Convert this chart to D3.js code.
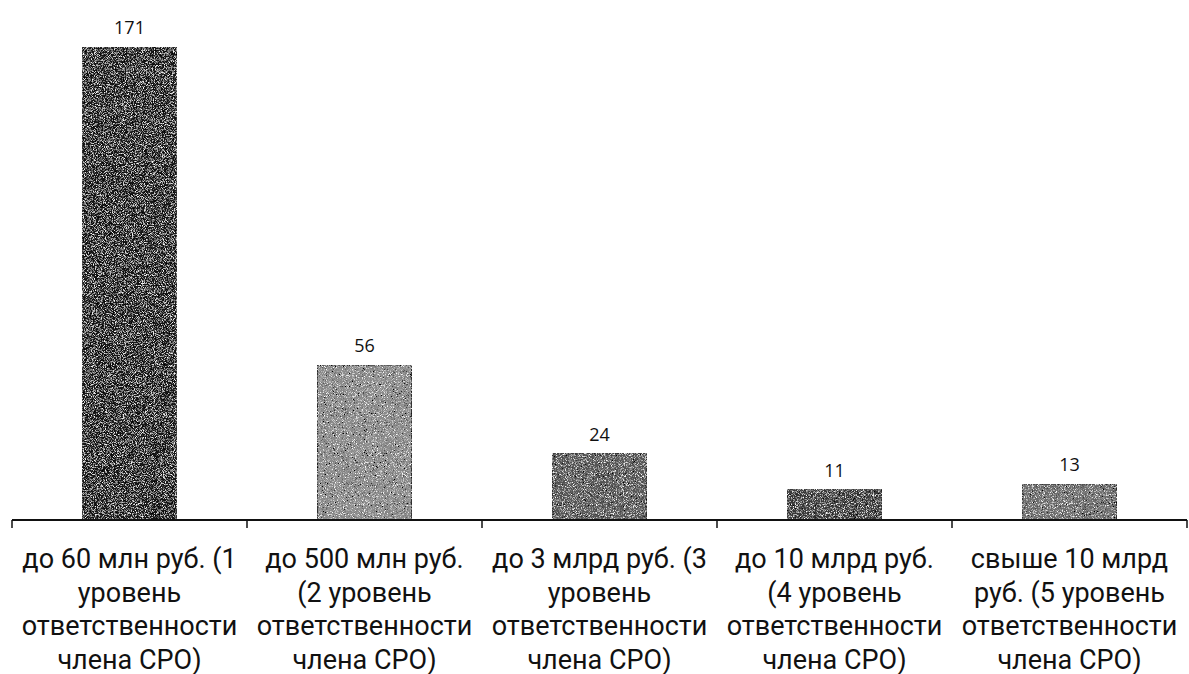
<!DOCTYPE html>
<html>
<head>
<meta charset="utf-8">
<script src="https://cdn.jsdelivr.net/npm/d3@7"></script>
<style>
  body { margin: 0; background: #fff; }
  svg { display: block; }
</style>
</head>
<body>
<div id="chart"></div>
<script>
// categories (label lines as wrapped in the source)
const categories = ["lvl1", "lvl2", "lvl3", "lvl4", "lvl5"];
const labelLines = [
  ["до 60 млн руб. (1", "уровень", "ответственности", "члена СРО)"],
  ["до 500 млн руб.", "(2 уровень", "ответственности", "члена СРО)"],
  ["до 3 млрд руб. (3", "уровень", "ответственности", "члена СРО)"],
  ["до 10 млрд руб.", "(4 уровень", "ответственности", "члена СРО)"],
  ["свыше 10 млрд", "руб. (5 уровень", "ответственности", "члена СРО)"]
];
const values = [171, 56, 24, 11, 13];
const barColors = ["#141414", "#8a8a8a", "#555555", "#383838", "#6c6c6c"];

const width = 1189, height = 674;
const margin = { top: 47, right: 2, bottom: 154, left: 12 };

const svg = d3.select("#chart").append("svg")
  .attr("width", width)
  .attr("height", height);

// sparse grain to mimic the scanned print
const defs = svg.append("defs");
const f = defs.append("filter").attr("id", "grain")
  .attr("x", 0).attr("y", 0).attr("width", 1).attr("height", 1);
f.append("feTurbulence").attr("type", "fractalNoise")
  .attr("baseFrequency", 1.1).attr("numOctaves", 2).attr("seed", 5).attr("result", "noise");
f.append("feColorMatrix").attr("in", "noise").attr("type", "matrix")
  .attr("values", "3 0 0 0 -1  3 0 0 0 -1  3 0 0 0 -1  0 0 0 -4 2.2")
  .attr("result", "speck");
f.append("feComposite").attr("in", "speck").attr("in2", "SourceGraphic").attr("operator", "atop");

const x = d3.scaleBand()
  .domain(categories)
  .range([margin.left, width - margin.right])
  .paddingInner(0.6)
  .paddingOuter(0.3);

const y = d3.scaleLinear()
  .domain([0, 171])
  .range([height - margin.bottom, margin.top]);

const baseY = y(0);

// bars
svg.selectAll("rect.bar")
  .data(values)
  .join("rect")
  .attr("class", "bar")
  .attr("x", (d, i) => x(categories[i]))
  .attr("y", d => y(d))
  .attr("width", x.bandwidth())
  .attr("height", d => baseY - y(d))
  .attr("fill", (d, i) => barColors[i])
  .attr("stroke", "#333")
  .attr("stroke-width", 1)
  .attr("filter", "url(#grain)");

// value labels
svg.selectAll("text.val")
  .data(values)
  .join("text")
  .attr("class", "val")
  .attr("x", (d, i) => x(categories[i]) + x.bandwidth() / 2)
  .attr("y", d => y(d) - 13)
  .attr("text-anchor", "middle")
  .attr("font-family", "'Open Sans', sans-serif")
  .attr("font-size", 18)
  .attr("fill", "#111")
  .text(d => d);

// x axis line and ticks at band boundaries
const step = x.step();
const axisG = svg.append("g").attr("class", "x-axis");
axisG.append("line")
  .attr("x1", margin.left).attr("x2", width - margin.right)
  .attr("y1", baseY).attr("y2", baseY)
  .attr("stroke", "#111").attr("stroke-width", 2);
axisG.selectAll("line.tick")
  .data(d3.range(categories.length + 1))
  .join("line")
  .attr("class", "tick")
  .attr("x1", i => margin.left + i * step)
  .attr("x2", i => margin.left + i * step)
  .attr("y1", baseY).attr("y2", baseY + 8)
  .attr("stroke", "#111").attr("stroke-width", 1.5);

// category labels
const lab = svg.selectAll("text.cat")
  .data(labelLines)
  .join("text")
  .attr("class", "cat")
  .attr("text-anchor", "middle")
  .attr("font-family", "Roboto, sans-serif")
  .attr("font-size", 27)
  .attr("fill", "#111");

lab.selectAll("tspan")
  .data((d, i) => d.map(t => ({ t, i })))
  .join("tspan")
  .attr("x", d => x(categories[d.i]) + x.bandwidth() / 2)
  .attr("y", (d, j) => baseY + 48 + j * 33.5)
  .text(d => d.t);
</script>
</body>
</html>
